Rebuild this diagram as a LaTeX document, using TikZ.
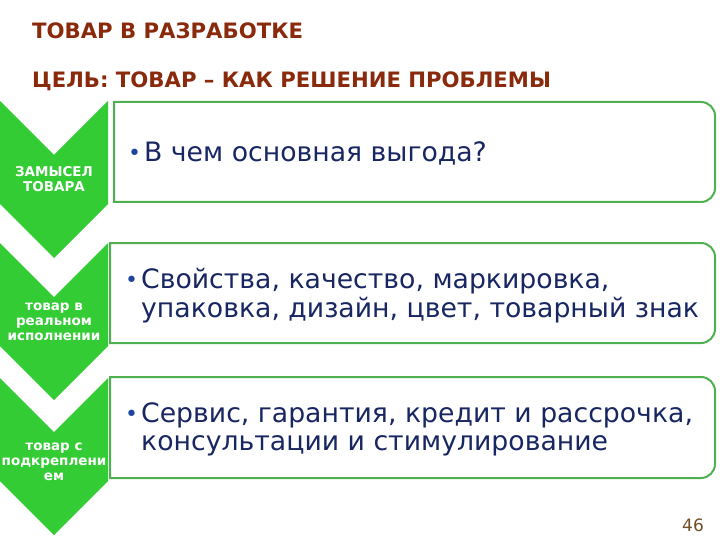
\documentclass[tikz,border=0pt]{standalone}
\usepackage{fontspec}
\usepackage{xcolor}
\usepackage{tikz}
\setmainfont{DejaVu Sans}

\definecolor{titlebrown}{RGB}{138,42,12}
\definecolor{chevgreen}{RGB}{52,204,52}
\definecolor{boxgreen}{RGB}{78,176,78}
\definecolor{itemblue}{RGB}{24,38,98}
\definecolor{dotblue}{RGB}{30,70,160}
\definecolor{pagebrown}{RGB}{110,78,40}

\newcommand{\bul}{\textcolor{dotblue}{\fontsize{22}{22}\selectfont\raisebox{1pt}{•}}}

\tikzset{
  chevron/.style={fill=chevgreen, draw=none},
  chevlabel/.style={text=white, font=\bfseries\fontsize{13.5}{15}\selectfont, align=center, inner sep=0pt},
  boxline/.style={draw=boxgreen, line width=2pt, fill=white},
  item/.style={text=itemblue, font=\fontsize{26.7}{28}\selectfont, anchor=west, inner sep=0pt},
  heading/.style={text=titlebrown, font=\bfseries\fontsize{21.2}{24}\selectfont, anchor=west, inner sep=0pt}
}

\begin{document}
\begin{tikzpicture}[x=1pt, y=-1pt]
\useasboundingbox (0,0) rectangle (720,540);
%draw headings
\node[heading] (title) at (32,31) {ТОВАР В РАЗРАБОТКЕ};
\node[heading] (goal) at (32,81) {ЦЕЛЬ: ТОВАР – КАК РЕШЕНИЕ ПРОБЛЕМЫ};
%draw chevrons
\foreach \t in {101, 243, 378}{
   \fill[chevron] (0,\t) -- (54,\t+54) -- (108,\t) -- (108,\t+103) -- (54,\t+157) -- (0,\t+103) -- cycle;
}
\node[chevlabel] (idea) at (54,179) {ЗАМЫСЕЛ\\ТОВАРА};
\node[chevlabel] (real) at (54,322) {товар в\\реальном\\исполнении};
\node[chevlabel] (extra) at (54,462) {товар с\\подкреплени\\ем};
%draw boxes
\foreach \l/\t/\b in {114/102/202, 110/243/343, 110/377/478}{
   \draw[boxline] (\l,\t) -- (701,\t) arc[start angle=90, end angle=0, radius=14pt]
      -- (715,\b-14) arc[start angle=0, end angle=-90, radius=14pt] -- (\l,\b) -- cycle;
}
%draw box texts
\node[item] (benefit) at (128,156) {\begin{tabular}{@{}l@{\hspace{3pt}}l@{}}\bul & В чем основная выгода?\end{tabular}};
\node[item] (props) at (125,297) {\begin{tabular}{@{}l@{\hspace{3pt}}l@{}}\bul & Свойства, качество, маркировка,\\ & упаковка, дизайн, цвет, товарный знак\end{tabular}};
\node[item] (service) at (125,431) {\begin{tabular}{@{}l@{\hspace{3pt}}l@{}}\bul & Сервис, гарантия, кредит и рассрочка,\\ & консультации и стимулирование\end{tabular}};
%draw page number
\node[text=pagebrown, font=\fontsize{17}{20}\selectfont, inner sep=0pt] (page) at (693,525) {46};
\end{tikzpicture}
\end{document}
